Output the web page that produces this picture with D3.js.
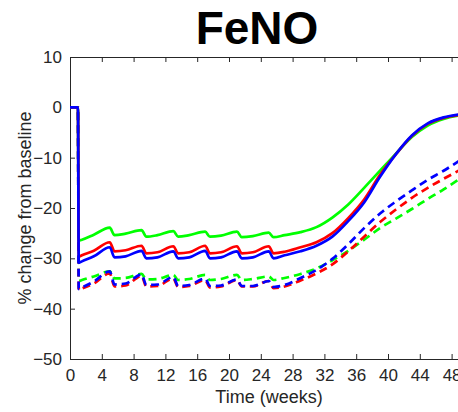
<!DOCTYPE html>
<html>
<head>
<meta charset="utf-8">
<script src="https://cdn.jsdelivr.net/npm/d3@7"></script>
<style>
  body { margin: 0; background: white; }
  text { font-family: "Liberation Sans", Arial, Helvetica, sans-serif; }
</style>
</head>
<body>
<div id="chart"></div>
<script>
// Data
var weeks = [0, 1, 1.1, 1.5, 3, 5, 5.6, 7, 9, 9.6, 11, 13, 13.6, 15, 17, 17.6, 19, 21, 21.6, 23, 25, 25.6,
             27, 29, 31, 33, 35, 37, 39, 41, 43, 45, 47, 49];

var greenSolid = [0, 0, -26.5, -26.3, -25.3, -23.9, -25.4, -25.1, -24.4, -25.7, -25.4, -24.6, -25.7, -25.4, -24.7, -25.7, -25.5, -24.7, -25.8, -25.6, -24.9, -25.8,
                  -25.4, -24.8, -23.8, -21.9, -19.3, -16.0, -12.6, -9.2, -5.9, -3.6, -2.3, -1.6];
var redSolid   = [0, 0, -29.7, -29.4, -28.5, -26.8, -28.6, -28.4, -27.5, -29.0, -28.8, -27.6, -29.0, -28.8, -27.5, -29.0, -28.8, -27.6, -29.0, -28.8, -27.6, -29.0,
                  -28.7, -27.8, -26.8, -25.0, -22.0, -18.3, -13.4, -9.3, -5.7, -3.3, -2.1, -1.5];
var blueSolid  = [0, 0, -30.9, -30.6, -29.6, -27.8, -29.8, -29.6, -28.5, -30.0, -29.8, -28.6, -30.0, -29.8, -28.5, -30.0, -29.8, -28.6, -30.0, -29.8, -28.6, -30.0,
                  -29.4, -28.6, -27.5, -25.7, -22.6, -18.9, -13.8, -9.3, -5.6, -3.2, -2.0, -1.4];

var greenDash = [0, 0, -34.5, -34.3, -33.6, -32.6, -34.0, -33.9, -33.1, -34.2, -34.1, -33.3, -34.3, -34.1, -33.3, -34.3, -34.1, -33.3, -34.3, -34.1, -33.6, -34.3,
                 -33.9, -33.1, -32.0, -30.4, -28.5, -26.3, -24.0, -22.1, -20.2, -18.2, -16.3, -14.2];
var redDash   = [0, 0, -36.3, -36.0, -35.0, -33.0, -35.6, -35.4, -33.5, -35.6, -35.5, -34.0, -35.7, -35.5, -34.3, -35.8, -35.6, -34.3, -35.6, -35.6, -34.5, -35.9,
                 -35.6, -34.4, -33.0, -31.2, -28.6, -25.7, -22.8, -20.3, -18.0, -16.0, -14.2, -12.5];
var blueDash  = [0, 0, -36.1, -35.8, -34.6, -32.6, -35.2, -35.0, -33.2, -35.3, -35.2, -33.7, -35.5, -35.3, -34.0, -35.5, -35.4, -34.2, -35.5, -35.5, -34.5, -35.7,
                 -35.3, -33.9, -32.3, -30.1, -27.2, -24.0, -21.1, -18.7, -16.5, -14.4, -12.6, -10.6];

var xTicks = [0, 4, 8, 12, 16, 20, 24, 28, 32, 36, 40, 44, 48];
var yTicks = [-50, -40, -30, -20, -10, 0, 10];

// SVG area
var svgWidth = 458;
var svgHeight = 412;

var margin = { top: 57, left: 70 };
var chartWidth = 397.5;   // axes run past the right edge of the window
var chartHeight = 302;

var svg = d3.select("#chart")
  .append("svg")
  .attr("width", svgWidth)
  .attr("height", svgHeight);

var chartGroup = svg.append("g")
  .attr("transform", `translate(${margin.left}, ${margin.top})`);

var xScale = d3.scaleLinear().domain([0, 50]).range([0, chartWidth]);
var yScale = d3.scaleLinear().domain([-50, 10]).range([chartHeight, 0]);

var axisColor = "#262626";

// Axes with inward ticks (box style)
var bottomAxis = d3.axisBottom(xScale).tickValues(xTicks).tickSizeInner(-5).tickSizeOuter(0).tickPadding(10);
var leftAxis = d3.axisLeft(yScale).tickValues(yTicks).tickSizeInner(-5).tickSizeOuter(0).tickPadding(8);
var topAxis = d3.axisTop(xScale).tickValues(xTicks).tickSizeInner(-5).tickSizeOuter(0).tickFormat("");

function styleAxis(g) {
  g.select(".domain").attr("stroke", axisColor).attr("stroke-width", 1);
  g.selectAll(".tick line").attr("stroke", axisColor);
  g.selectAll(".tick text").attr("fill", axisColor).style("font-size", "17px")
    .style("font-family", '"Liberation Sans", Arial, sans-serif');
}

chartGroup.append("g").attr("transform", `translate(0, ${chartHeight})`).call(bottomAxis).call(styleAxis);
chartGroup.append("g").call(leftAxis).call(styleAxis);
chartGroup.append("g").call(topAxis).call(styleAxis);

// Lines
var lineGroup = chartGroup.append("g");

function drawLine(values, color, dashed) {
  var line = d3.line()
    .x((d, i) => xScale(weeks[i]))
    .y(d => yScale(d))
    .curve(d3.curveMonotoneX);
  lineGroup.append("path")
    .datum(values)
    .attr("d", line)
    .attr("fill", "none")
    .attr("stroke", color)
    .attr("stroke-width", 2.7)
    .attr("stroke-dasharray", dashed ? "8,5" : null);
}

drawLine(greenDash, "#00ff00", true);
drawLine(redDash, "#ff0000", true);
drawLine(blueDash, "#0000ff", true);
drawLine(greenSolid, "#00ff00", false);
drawLine(redSolid, "#ff0000", false);
drawLine(blueSolid, "#0000ff", false);

// Title and axis labels
svg.append("text")
  .attr("x", 257)
  .attr("y", 44)
  .attr("text-anchor", "middle")
  .style("font-size", "46px")
  .style("font-weight", "bold")
  .attr("fill", "black")
  .text("FeNO");

svg.append("text")
  .attr("x", 269)
  .attr("y", 403)
  .attr("text-anchor", "middle")
  .style("font-size", "18px")
  .attr("fill", axisColor)
  .text("Time (weeks)");

svg.append("text")
  .attr("transform", "rotate(-90)")
  .attr("x", -208)
  .attr("y", 31)
  .attr("text-anchor", "middle")
  .style("font-size", "18px")
  .attr("fill", axisColor)
  .text("% change from baseline");
</script>
</body>
</html>
